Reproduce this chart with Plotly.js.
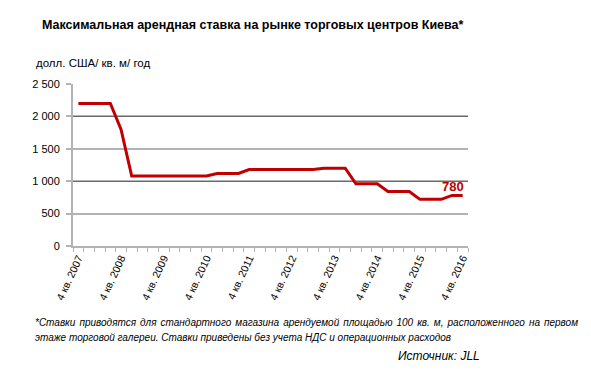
<!DOCTYPE html>
<html><head><meta charset="utf-8">
<script src="https://cdn.plot.ly/plotly-3.0.1.min.js"></script>
<style>body{margin:0;background:#fff}#chart{width:591px;height:392px}</style>
</head><body><div id="chart"></div>
<script>
const quarters = [
  "4 кв. 2007",
  "1 кв. 2008","2 кв. 2008","3 кв. 2008","4 кв. 2008",
  "1 кв. 2009","2 кв. 2009","3 кв. 2009","4 кв. 2009",
  "1 кв. 2010","2 кв. 2010","3 кв. 2010","4 кв. 2010",
  "1 кв. 2011","2 кв. 2011","3 кв. 2011","4 кв. 2011",
  "1 кв. 2012","2 кв. 2012","3 кв. 2012","4 кв. 2012",
  "1 кв. 2013","2 кв. 2013","3 кв. 2013","4 кв. 2013",
  "1 кв. 2014","2 кв. 2014","3 кв. 2014","4 кв. 2014",
  "1 кв. 2015","2 кв. 2015","3 кв. 2015","4 кв. 2015",
  "1 кв. 2016","2 кв. 2016","3 кв. 2016","4 кв. 2016"
];
const rent = [
  2200, 2200, 2200, 2200, 1800,
  1080, 1080, 1080, 1080, 1080, 1080, 1080, 1080,
  1120, 1120, 1120,
  1180, 1180, 1180, 1180, 1180, 1180, 1180,
  1200, 1200, 1200,
  960, 960, 960,
  840, 840, 840,
  720, 720, 720,
  780, 780
];
const yTickVals = [0, 500, 1000, 1500, 2000, 2500];
const yTickText = ["0", "500", "1 000", "1 500", "2 000", "2 500"];
const darkGridVals = [1000, 2000];
const labelEvery = 4;

const titleText = "Максимальная арендная ставка на рынке торговых центров Киева*";
const unitText = "долл. США/ кв. м/ год";
const note1 = "*Ставки приводятся для стандартного магазина арендуемой площадью 100 кв. м, расположенного на первом";
const note2 = "этаже торговой галереи. Ставки приведены без учета НДС и операционных расходов";
const sourceText = "Источник: JLL";

const idx = quarters.map((q, i) => i);
const tickIdx = idx.filter(i => i % labelEvery === 0);
const tickLbl = tickIdx.map(i => quarters[i]);
const last = rent.length - 1;

const FONT = "Liberation Sans, Arial, sans-serif";
const W = 591, H = 392, L = 73, R = 468, T = 84, B = 246;
const px = x => (x - L) / (R - L);
const py = y => (B - y) / (B - T);

const trace = {
  x: idx, y: rent, type: "scatter", mode: "lines",
  line: {color: "#c00000", width: 3}, hoverinfo: "x+y", xaxis: "x", yaxis: "y"
};

const layout = {
  width: W, height: H,
  margin: {l: L, r: W - R, t: T, b: H - B, pad: 0},
  paper_bgcolor: "#fff", plot_bgcolor: "#fff",
  showlegend: false,
  font: {family: FONT, size: 11, color: "#000"},
  title: {text: "<b>" + titleText + "</b>", xref: "container", yref: "container",
          x: 42 / W, xanchor: "left", y: 1 - 25 / H, yanchor: "middle",
          font: {family: FONT, size: 12.5, color: "#000"}},
  xaxis: {
    range: [-0.5, last + 0.5], tickmode: "array", tickvals: tickIdx, ticktext: tickLbl,
    tickangle: -65, ticks: "", showgrid: false, zeroline: false,
    showline: true, linecolor: "#b3b3b3", linewidth: 2,
    tickfont: {family: FONT, size: 10.5, color: "#000"},
    minor: {tick0: -0.5, dtick: 1, ticks: "outside", ticklen: 4, tickcolor: "#b3b3b3", tickwidth: 1, showgrid: false}
  },
  yaxis: {
    range: [0, 2500], tickmode: "array", tickvals: yTickVals, ticktext: yTickText,
    ticks: "outside", ticklen: 5, tickcolor: "#b3b3b3", tickwidth: 2,
    showgrid: true, gridcolor: "#b3b3b3", gridwidth: 2, zeroline: false,
    showline: true, linecolor: "#b3b3b3", linewidth: 2,
    ticklabelstandoff: 4,
    tickfont: {family: FONT, size: 11, color: "#000"}
  },
  yaxis2: {
    overlaying: "y", range: [0, 2500], tickmode: "array", tickvals: darkGridVals,
    showticklabels: false, ticks: "", showgrid: true, gridcolor: "#6a6a6a", gridwidth: 1,
    zeroline: false, showline: false, side: "left"
  },
  annotations: [
    {x: last, y: rent[last], xref: "x", yref: "y", text: "<b>" + rent[last] + "</b>",
     showarrow: false, xanchor: "right", yanchor: "middle", xshift: 3, yshift: 9,
     font: {family: FONT, size: 13, color: "#c00000"}},
    {x: px(34), y: py(63.3), xref: "paper", yref: "paper", text: unitText, showarrow: false,
     xanchor: "left", yanchor: "middle", font: {family: FONT, size: 11.5, color: "#000"}},
    {x: px(33), y: py(322.3), xref: "paper", yref: "paper", text: "<i>" + note1 + "</i>", showarrow: false,
     xanchor: "left", yanchor: "middle", font: {family: FONT, size: 10, color: "#000"}},
    {x: px(33), y: py(337.3), xref: "paper", yref: "paper", text: "<i>" + note2 + "</i>", showarrow: false,
     xanchor: "left", yanchor: "middle", font: {family: FONT, size: 10, color: "#000"}},
    {x: px(481.7), y: py(356), xref: "paper", yref: "paper", text: "<i>" + sourceText + "</i>", showarrow: false,
     xanchor: "right", yanchor: "middle", font: {family: FONT, size: 12, color: "#000"}}
  ]
};

Plotly.newPlot("chart", [trace, {x: [], y: [], yaxis: "y2", type: "scatter", hoverinfo: "skip"}], layout,
  {displayModeBar: false, staticPlot: true}).then(gd => {
  // justify the first footnote line like the original (text block justified to the right edge)
  const texts = gd.querySelectorAll(".annotation-text");
  texts.forEach(t => {
    if (t.textContent === note1) {
      const target = 576 - 33;
      const w = t.getComputedTextLength();
      const spaces = (note1.match(/ /g) || []).length;
      if (w < target && spaces > 0) {
        const x0 = parseFloat(t.getAttribute("x")) || 0;
        t.setAttribute("text-anchor", "start");
        t.setAttribute("x", (x0 - w / 2).toFixed(2));
        t.setAttribute("word-spacing", ((target - w) / spaces).toFixed(2));
      }
    }
  });
});
</script>
</body></html>
